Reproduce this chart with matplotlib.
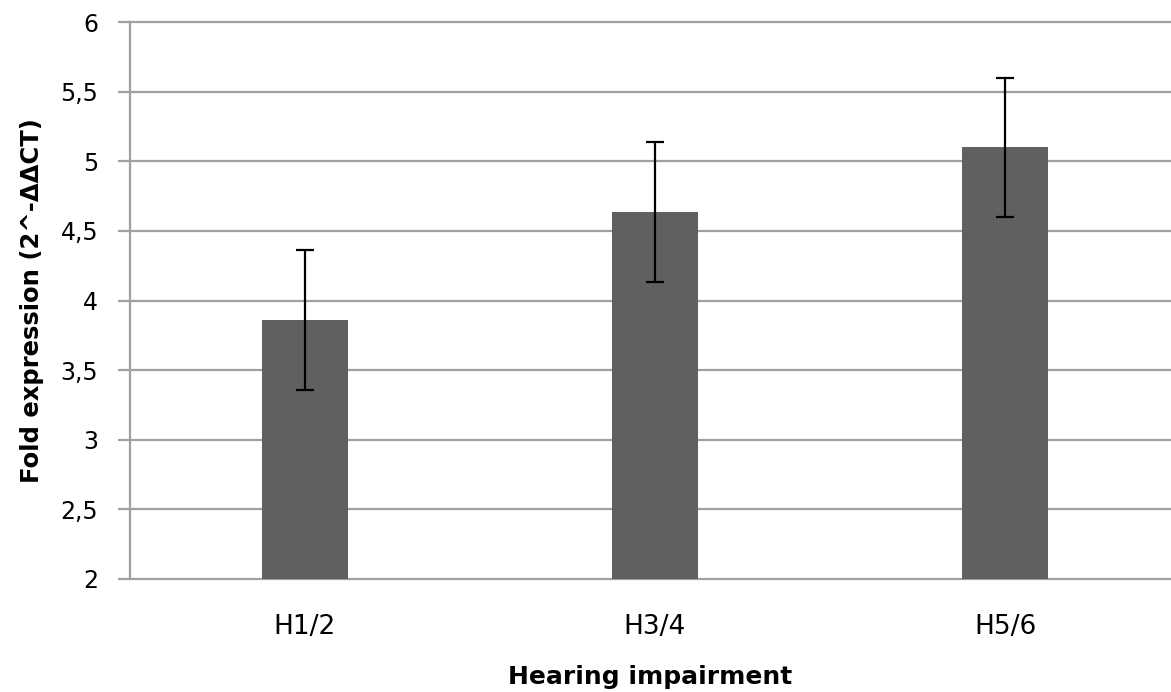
# Fold expression by hearing impairment grade

import numpy as np
import matplotlib.pyplot as plt
from matplotlib.ticker import FuncFormatter

# Data
groups = ['H1/2', 'H3/4', 'H5/6']
fold = [3.86, 4.635, 5.10]
err = [0.5, 0.5, 0.5]
yticks = [2, 2.5, 3, 3.5, 4, 4.5, 5, 5.5, 6]

fig = plt.figure(figsize=(11.71, 6.92), dpi=100)
ax = fig.add_axes([130 / 1171, 1 - 579 / 692, 1041 / 1171, 557 / 692])

x = np.arange(len(groups))
ax.bar(x, fold, width=0.245, color='#606060', zorder=3)
ax.errorbar(x, fold, yerr=err, fmt='none', ecolor='black', elinewidth=1.6,
            capsize=6.5, capthick=1.6, zorder=4)

ax.set_ylim(2, 6)
ax.set_xlim(-0.5, 2.5 - 9 / 350)
ax.set_yticks(yticks)
ax.yaxis.set_major_formatter(FuncFormatter(lambda v, p: ('%g' % v).replace('.', ',')))
ax.set_xticks(x)
ax.set_xticklabels(groups)

ax.grid(axis='y', color='#a0a0a0', linewidth=1.6, zorder=0)
for line in ax.get_ygridlines():
    line.set_clip_on(False)
for s in ['top', 'right', 'bottom']:
    ax.spines[s].set_visible(False)
ax.spines['left'].set_color('#a0a0a0')
ax.spines['left'].set_linewidth(1.6)

ax.tick_params(axis='y', length=9, width=1.6, color='#a0a0a0', labelsize=17, pad=14)
ax.tick_params(axis='x', length=0, labelsize=19, pad=25)

ax.set_ylabel('Fold expression (2^-\u0394\u0394CT)', fontsize=17.5, fontweight='bold', labelpad=12)
ax.set_xlabel('Hearing impairment', fontsize=18, fontweight='bold', labelpad=18)

fig.savefig('out.png', dpi=100)
